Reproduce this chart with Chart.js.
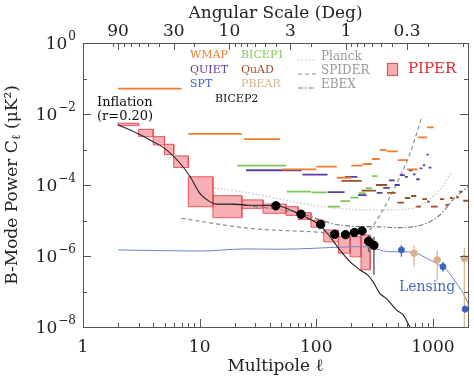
<!DOCTYPE html>
<html>
<head>
<meta charset="utf-8">
<script src="https://cdn.jsdelivr.net/npm/chart.js@4.4.0/dist/chart.umd.min.js"></script>
<style>
  html, body { margin: 0; padding: 0; background: #fff; }
</style>
</head>
<body>
<canvas id="bmodeChart" width="474" height="382"></canvas>
<script>
/******** data ******************************* */
const multipoleTicks = [1, 10, 100, 1000];
const angleTicks = [90, 30, 10, 3, 1, 0.3];
const powerTicks = [1e-8, 1e-7, 1e-6, 1e-5, 1e-4, 1e-3, 1e-2, 1e-1, 1];
const ellMin = 1;
const ellMax = 2000;

// inflation r=0.20 theory curve
const inflationEll = [2, 3.1, 3.75, 5.2, 6.8, 8.3, 10, 12.2, 14, 19, 27, 46, 75, 107, 131, 159, 194, 236, 277, 306, 350, 400, 488, 556, 634, 700];
const inflationCl = [5.0e-3, 2.6e-3, 1.86e-3, 9.8e-4, 4.1e-4, 1.7e-4, 5.9e-5, 3.4e-5, 2.9e-5, 2.9e-5, 2.7e-5, 2.6e-5, 1.4e-5, 7.4e-6, 3.5e-6, 1.5e-6, 6.9e-7, 4.1e-7, 2.9e-7, 1.9e-7, 8.9e-8, 6.3e-8, 3.0e-8, 2.2e-8, 1.0e-8, 5.0e-9];

// lensing curve
const lensingEll = [2, 5, 10, 25, 49, 100, 207, 270, 329, 427, 520, 723, 881, 1073, 1308, 1592, 1815, 2000];
const lensingCl = [1.48e-6, 1.41e-6, 1.38e-6, 1.58e-6, 1.55e-6, 1.66e-6, 1.82e-6, 1.82e-6, 1.55e-6, 1.32e-6, 1.32e-6, 1.2e-6, 8.7e-7, 6.2e-7, 4.1e-7, 1.7e-7, 8.9e-8, 4.7e-8];

// forecast sensitivities
const planckEll = [9.4, 18, 27, 60, 131, 305, 600, 800, 1000, 1200, 1450];
const planckCl = [9.3e-5, 7.2e-5, 5.9e-5, 3.5e-5, 2.3e-5, 2.0e-5, 2.1e-5, 2.8e-5, 4.7e-5, 8.9e-5, 2.3e-4];
const spiderEll = [7, 27, 93, 175, 236, 287, 350, 427, 520, 634, 800];
const spiderCl = [1.15e-5, 6.0e-6, 4.8e-6, 4.2e-6, 4.8e-6, 5.6e-6, 1.4e-5, 4.5e-5, 1.66e-4, 7.4e-4, 7.9e-3];
const ebexEll = [19, 45, 72, 160, 350, 500, 720, 1140, 1480, 2000];
const ebexCl = [2.9e-5, 2.1e-5, 1.6e-5, 7.4e-6, 6.6e-6, 6.3e-6, 6.8e-6, 1.4e-5, 3.8e-5, 8.9e-5];

// PIPER forecast boxes: ell bin edges and Cl range
const piperEllLo = [2, 3, 4, 5, 6, 8, 13, 23, 35, 55, 70, 90, 116, 155, 195, 242];
const piperEllHi = [3, 4, 5, 6, 8, 13, 23, 35, 55, 70, 90, 116, 155, 195, 242, 290];
const piperClLo = [4.7e-3, 2.3e-3, 1.35e-3, 7.2e-4, 3.1e-4, 2.45e-5, 1.2e-5, 2.2e-5, 1.6e-5, 1.4e-5, 1.07e-5, 6.5e-6, 2.5e-6, 1.2e-6, 9.5e-7, 4.1e-7];
const piperClHi = [5.5e-3, 3.7e-3, 2.3e-3, 1.4e-3, 6.6e-4, 1.7e-4, 5.0e-5, 3.8e-5, 2.9e-5, 2.45e-5, 1.66e-5, 1.02e-5, 5.4e-6, 3.5e-6, 3.5e-6, 3.9e-6];

// BICEP2 detections
const bicep2Ell = [45, 74, 109, 144, 178, 212, 247, 281, 312];
const bicep2Cl = [2.6e-5, 1.5e-5, 7.8e-6, 4.1e-6, 4.0e-6, 4.6e-6, 5.1e-6, 2.6e-6, 2.0e-6];
const bicep2Lo = [2.2e-5, 1.25e-5, 6.5e-6, 3.2e-6, 3.1e-6, 3.6e-6, 4.1e-6, 1.3e-6, 2.9e-7];
const bicep2Hi = [3.0e-5, 1.8e-5, 9.3e-6, 4.9e-6, 4.9e-6, 5.6e-6, 6.1e-6, 3.9e-6, 3.5e-6];

// SPT and POLARBEAR detections
const sptEll = [537, 1220, 1890];
const sptCl = [1.48e-6, 5.0e-7, 3.2e-8];
const sptLo = [9.5e-7, 3.6e-7, 2.5e-8];
const sptHi = [2.0e-6, 6.9e-7, 4.0e-8];
const pbearEll = [690, 1090, 1860];
const pbearCl = [1.2e-6, 7.8e-7, 8.5e-7];
const pbearLo = [4.8e-7, 2.0e-7, 1.0e-8];
const pbearHi = [1.95e-6, 1.4e-6, 1.7e-6];

// upper limits: [ell low, ell high, Cl]
const wmapLimits = [[2, 7, 5.2e-2], [8, 23, 2.75e-3], [24, 49, 1.95e-3], [50, 100, 2.75e-4], [100, 150, 3.3e-4], [150, 200, 1.6e-4], [200, 250, 3.5e-4], [250, 300, 3.9e-4], [300, 350, 5.4e-4], [350, 400, 9.8e-4], [400, 500, 8.9e-4], [500, 600, 5.0e-4], [600, 740, 2.75e-4], [740, 890, 2.2e-3], [890, 1015, 4.2e-3]];
const quietLimits = [[25, 75, 2.6e-4], [76, 125, 1.95e-4], [126, 175, 6.3e-5], [176, 225, 1.7e-4], [228, 270, 5.2e-5], [330, 370, 6.0e-5], [375, 427, 8.3e-5], [420, 470, 1.35e-4], [470, 520, 1.0e-4], [520, 575, 1.9e-4], [575, 610, 1.7e-4], [620, 670, 2.6e-4], [675, 710, 2.0e-4], [720, 770, 1.45e-4], [770, 810, 2.95e-4], [820, 860, 3.6e-4], [880, 920, 7.2e-4], [920, 970, 3.1e-4]];
const bicep1Limits = [[21, 55, 3.5e-4], [56, 90, 6.5e-5], [91, 125, 6.2e-5], [126, 160, 2.45e-5], [161, 195, 3.5e-5], [196, 230, 4.4e-5], [231, 265, 5.9e-5], [266, 300, 8.1e-5], [301, 335, 1.78e-4]];
const quadLimits = [[164, 245, 1.3e-4], [245, 325, 6.9e-5], [325, 405, 1.0e-4], [405, 480, 6.0e-5], [495, 565, 3.2e-5], [575, 640, 4.3e-5], [650, 720, 4.9e-5], [720, 790, 2.45e-5], [810, 890, 4.0e-5], [890, 940, 3.4e-5], [960, 1100, 2.45e-5], [1150, 1250, 4.0e-5], [1280, 1380, 2.75e-5], [1400, 1480, 4.3e-5], [1580, 1680, 4.5e-5], [1680, 1780, 6.5e-5], [1820, 2000, 3.6e-5]];

/******** colours *********** */
const cWmap = "#f07c2c";
const cQuiet = "#5a3c9e";
const cSpt = "#3c62c4";
const cBicep1 = "#7cc857";
const cQuad = "#9c4e26";
const cPbear = "#d8b189";
const cLens = "#6a84cc";
const cPiperFill = "rgba(242, 110, 118, 0.55)";
const cPiperEdge = "#e8505a";
const serif = "DejaVu Serif";

/******** helpers *********** */
const toPoints = (ls, cs) => ls.map((l, i) => ({ x: l, y: cs[i] }));
function limitPoints(bins) {
    const pts = [];
    bins.forEach((b) => {
        pts.push({ x: b[0], y: b[2] }, { x: b[1], y: b[2] }, { x: b[1], y: null });
    });
    return pts;
}
function errorPoints(ls, lo, hi) {
    const pts = [];
    ls.forEach((l, i) => {
        pts.push({ x: l, y: lo[i] }, { x: l, y: hi[i] }, { x: l, y: null });
    });
    return pts;
}
const lineSet = (data, color, width, dash, extra) =>
    Object.assign({ data: data, borderColor: color, borderWidth: width, borderDash: dash, pointRadius: 0, fill: false }, extra || {});

/******** datasets (first = on top) *********** */
const datasets = [];
datasets.push({ data: toPoints(bicep2Ell, bicep2Cl), showLine: false, pointRadius: 4.2, pointBackgroundColor: "#000", pointBorderColor: "#000" });
datasets.push({ data: toPoints(sptEll, sptCl), showLine: false, pointRadius: 3, pointBackgroundColor: cSpt, pointBorderColor: cSpt });
datasets.push({ data: toPoints(pbearEll, pbearCl), showLine: false, pointRadius: 3.3, pointBackgroundColor: cPbear, pointBorderColor: cPbear });
datasets.push(lineSet(errorPoints(bicep2Ell, bicep2Lo, bicep2Hi), "#666", 1.5, []));
datasets.push(lineSet(errorPoints(sptEll, sptLo, sptHi), cSpt, 1.2, []));
datasets.push(lineSet(errorPoints(pbearEll, pbearLo, pbearHi), cPbear, 1.2, []));
datasets.push(lineSet(toPoints(inflationEll, inflationCl), "#222", 1.1, [], { cubicInterpolationMode: "monotone" }));
datasets.push(lineSet(toPoints(lensingEll, lensingCl), cLens, 1, [], { cubicInterpolationMode: "monotone" }));
datasets.push(lineSet(limitPoints(wmapLimits), cWmap, 1.8, []));
datasets.push(lineSet(limitPoints(quietLimits), cQuiet, 1.8, []));
datasets.push(lineSet(limitPoints(bicep1Limits), cBicep1, 1.8, []));
datasets.push(lineSet(limitPoints(quadLimits), cQuad, 1.8, []));
datasets.push(lineSet(toPoints(planckEll, planckCl), "#c4c4c4", 1.3, [1.5, 2], { cubicInterpolationMode: "monotone" }));
datasets.push(lineSet(toPoints(spiderEll, spiderCl), "#8c8c8c", 1.2, [4, 3], { cubicInterpolationMode: "monotone" }));
datasets.push(lineSet(toPoints(ebexEll, ebexCl), "#7a7a7a", 1.2, [5, 2, 1.5, 2], { cubicInterpolationMode: "monotone" }));
// PIPER boxes: top edge + sides, filled down to the low value
piperEllLo.forEach((lo, i) => {
    const hi = piperEllHi[i];
    datasets.push({
        data: [{ x: lo, y: piperClLo[i] }, { x: lo, y: piperClHi[i] }, { x: hi, y: piperClHi[i] }, { x: hi, y: piperClLo[i] }],
        borderColor: cPiperEdge, borderWidth: 1, pointRadius: 0,
        backgroundColor: cPiperFill, fill: { value: piperClLo[i] },
    });
});
// PIPER box bottom edges
datasets.push(lineSet(limitPoints(piperEllLo.map((lo, i) => [lo, piperEllHi[i], piperClLo[i]])), cPiperEdge, 1, []));

/******** frame, inward ticks, titles and legend *********** */
function tick(ctx, x1, y1, x2, y2) {
    ctx.beginPath();
    ctx.moveTo(x1, y1);
    ctx.lineTo(x2, y2);
    ctx.stroke();
}
const decorations = {
    id: "decorations",
    afterDraw(chart) {
        const { ctx, chartArea: a, scales } = chart;
        ctx.save();
        ctx.strokeStyle = "#555";
        ctx.lineWidth = 1;
        ctx.strokeRect(a.left + 0.5, a.top + 0.5, a.right - a.left, a.bottom - a.top);
        // bottom ticks (multipole)
        for (let d = 0; d < 4; d++) {
            for (let k = 1; k < 10; k++) {
                const v = k * Math.pow(10, d);
                if (v <= ellMin || v >= ellMax) continue;
                const x = Math.round(scales.x.getPixelForValue(v)) + 0.5;
                tick(ctx, x, a.bottom, x, a.bottom - (k === 1 ? 8 : 4));
            }
        }
        // top ticks (angle)
        for (let d = -2; d < 3; d++) {
            for (let k = 1; k < 10; k++) {
                const v = k * Math.pow(10, d);
                if (v <= scales.x2.min || v >= scales.x2.max) continue;
                const x = Math.round(scales.x2.getPixelForValue(v)) + 0.5;
                const major = angleTicks.some((t) => Math.abs(t - v) < 1e-9);
                tick(ctx, x, a.top, x, a.top + (major ? 7 : 4));
            }
        }
        // left and right ticks (power) + labels 10^n on even decades
        ctx.fillStyle = "#222";
        ctx.textBaseline = "middle";
        powerTicks.forEach((v, i) => {
            const y = Math.round(scales.y.getPixelForValue(v)) + 0.5;
            const len = i % 2 === 0 ? 8 : 4;
            tick(ctx, a.left, y, a.left + len, y);
            tick(ctx, a.right, y, a.right - len, y);
            const e = Math.round(Math.log10(v));
            if (e % 2 !== 0) return;
            ctx.textAlign = "right";
            ctx.font = "12px '" + serif + "'";
            const expo = e === 0 ? "0" : "\u2212" + String(-e);
            const wE = ctx.measureText(expo).width;
            ctx.fillText(expo, a.left - 7, y - 7);
            ctx.font = "17px '" + serif + "'";
            ctx.fillText("10", a.left - 7 - wE - 1, y + 1);
        });

        ctx.textAlign = "center";
        ctx.font = "17px '" + serif + "'";
        ctx.fillText("Angular Scale (Deg)", (a.left + a.right) / 2, 14);
        ctx.fillText("Multipole \u2113", (a.left + a.right) / 2, 367);
        // y title with subscript ell
        ctx.save();
        ctx.translate(13, (a.top + a.bottom) / 2);
        ctx.rotate(-Math.PI / 2);
        const partA = "B-Mode Power C";
        const partB = "\u2113";
        const partC = " (\u03bcK\u00b2)";
        ctx.font = "17px '" + serif + "'";
        const wA = ctx.measureText(partA).width;
        const wC = ctx.measureText(partC).width;
        ctx.font = "12px '" + serif + "'";
        const wB = ctx.measureText(partB).width;
        let x0 = -(wA + wB + wC) / 2;
        ctx.textAlign = "left";
        ctx.font = "17px '" + serif + "'";
        ctx.fillText(partA, x0, 0);
        ctx.font = "12px '" + serif + "'";
        ctx.fillText(partB, x0 + wA, 4);
        ctx.font = "17px '" + serif + "'";
        ctx.fillText(partC, x0 + wA + wB, 0);
        ctx.restore();

        // legend
        ctx.textAlign = "left";
        ctx.font = "11px '" + serif + "'";
        const legendText = [
            ["WMAP", cWmap, 190, 55], ["QUIET", cQuiet, 190, 70], ["SPT", cSpt, 190, 84],
            ["BICEP1", cBicep1, 241, 55], ["QuAD", cQuad, 241, 70], ["PBEAR", cPbear, 241, 84],
            ["BICEP2", "#111", 215, 99],
        ];
        legendText.forEach(([t, c, x, y]) => { ctx.fillStyle = c; ctx.fillText(t, x, y); });
        const legendLines = [["Planck", "#c4c4c4", [1.5, 2], 57], ["SPIDER", "#8c8c8c", [4, 3], 71], ["EBEX", "#7a7a7a", [5, 2, 1.5, 2], 85]];
        ctx.font = "12px '" + serif + "'";
        legendLines.forEach(([t, c, dash, y]) => {
            ctx.strokeStyle = c;
            ctx.lineWidth = 1.2;
            ctx.setLineDash(dash);
            tick(ctx, 298, y + 3, 316, y + 3);
            ctx.setLineDash([]);
            ctx.fillStyle = "#999";
            ctx.fillText(t, 321, y);
        });
        ctx.fillStyle = cPiperFill;
        ctx.strokeStyle = cPiperEdge;
        ctx.fillRect(387, 63, 10, 12);
        ctx.strokeRect(387.5, 63.5, 10, 12);
        ctx.fillStyle = "#e8262f";
        ctx.font = "15px '" + serif + "'";
        ctx.fillText("PIPER", 408, 69);

        ctx.fillStyle = "#111";
        ctx.font = "13px '" + serif + "'";
        ctx.fillText("Inflation", 97, 103);
        ctx.fillText("(r=0.20)", 97, 117);
        ctx.fillStyle = "#4a68c0";
        ctx.font = "14px '" + serif + "'";
        ctx.fillText("Lensing", 399, 287);
        ctx.restore();
    },
};

const tickFont = { family: serif, size: 17 };

const bmodeChart = new Chart(document.getElementById("bmodeChart").getContext("2d"), {
    type: "line",
    data: { datasets: datasets },
    plugins: [decorations],
    options: {
        responsive: false,
        animation: false,
        layout: { padding: { right: 6 } },
        plugins: {
            legend: { display: false },
            tooltip: { enabled: false },
        },
        elements: { line: { tension: 0 } },
        scales: {
            x: {
                type: "logarithmic",
                position: "bottom",
                min: ellMin,
                max: ellMax,
                afterBuildTicks: (s) => { s.ticks = multipoleTicks.map((v) => ({ value: v })); },
                afterFit: (s) => { s.height = 55; },
                grid: { display: false, drawTicks: false },
                border: { display: false },
                ticks: { font: tickFont, color: "#222", padding: 10, maxRotation: 0, autoSkip: false, callback: (v) => String(v) },
            },
            x2: {
                type: "logarithmic",
                position: "top",
                reverse: true,
                min: 180 / ellMax,
                max: 180 / ellMin,
                afterBuildTicks: (s) => { s.ticks = angleTicks.map((v) => ({ value: v })); },
                afterFit: (s) => { s.height = 43; },
                grid: { display: false, drawTicks: false },
                border: { display: false },
                ticks: { font: tickFont, color: "#222", padding: 1, maxRotation: 0, autoSkip: false, callback: (v) => String(v) },
            },
            y: {
                type: "logarithmic",
                min: 1e-8,
                max: 1,
                afterBuildTicks: (s) => { s.ticks = powerTicks.map((v) => ({ value: v })); },
                afterFit: (s) => { s.width = 83; },
                grid: { display: false, drawTicks: false },
                border: { display: false },
                ticks: { display: false },
            },
        },
    },
});
</script>
</body>
</html>
